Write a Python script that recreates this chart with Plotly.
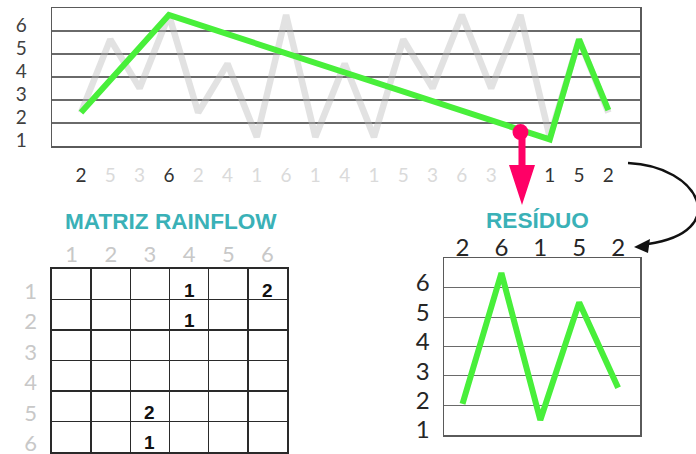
import plotly.graph_objects as go

W, H = 696, 454

# ---------------- data ----------------
signal_vals = [2, 5, 3, 6, 2, 4, 1, 6, 1, 4, 1, 5, 3, 6, 3, 6, 1, 5, 2]
signal_idx = list(range(len(signal_vals)))
signal_labels = ["2", "5", "3", "6", "2", "4", "1", "6", "1", "4", "1", "5", "3", "6", "3", "", "1", "5", "2"]
signal_label_dark = [1, 0, 0, 1, 0, 0, 0, 0, 0, 0, 0, 0, 0, 0, 0, 0, 1, 1, 1]

path_idx = [0, 3, 16, 17, 18]
path_vals = [2, 6, 0.9, 5, 2.1]

break_idx = [15]
break_vals = [1.2]

levels = [1, 2, 3, 4, 5, 6]
level_labels = ["1", "2", "3", "4", "5", "6"]

residue_idx = [0, 1, 2, 3, 4]
residue_labels = ["2", "6", "1", "5", "2"]
residue_vals = [1.55, 6, 1, 5, 2.1]

matrix_cols = [1, 2, 3, 4, 5, 6]
matrix_rows = [1, 2, 3, 4, 5, 6]
matrix_col_labels = ["1", "2", "3", "4", "5", "6"]
matrix_row_labels = ["1", "2", "3", "4", "5", "6"]
count_col = [4, 6, 4, 3, 3]
count_row = [1, 1, 2, 5, 6]
count_val = ["1", "2", "1", "2", "1"]

# ---------------- styles ----------------
GREEN = "#48EF3A"
GREY_LINE = "rgba(185,185,185,0.42)"
PINK = "#FF0066"
TEAL = "#3AB1B7"
DIGIT_FONT = "Lato"
BOLD_FONT = "Liberation Sans"


def fx(px):
    return px / W


def fy(py):
    return 1 - py / H


def P(px, py):
    return f"{fx(px):.5f},{fy(py):.5f}"


fig = go.Figure()

# invisible anchor trace for the level/grid axis of the top chart
fig.add_trace(go.Scatter(x=[signal_idx[0]], y=[levels[0]], xaxis="x", yaxis="y", mode="markers",
                         marker=dict(opacity=0), hoverinfo="skip"))
# top chart: full signal (grey) and residue path (green)
fig.add_trace(go.Scatter(x=signal_idx, y=signal_vals, xaxis="x", yaxis="y2", mode="lines",
                         line=dict(color=GREY_LINE, width=6.5), hoverinfo="skip"))
fig.add_trace(go.Scatter(x=path_idx, y=path_vals, xaxis="x", yaxis="y2", mode="lines",
                         line=dict(color=GREEN, width=6), hoverinfo="skip"))
fig.add_trace(go.Scatter(x=break_idx, y=break_vals, xaxis="x", yaxis="y2", mode="markers",
                         marker=dict(color=PINK, size=16), hoverinfo="skip", cliponaxis=False))

# residue chart
fig.add_trace(go.Scatter(x=residue_idx, y=residue_vals, xaxis="x3", yaxis="y3", mode="lines",
                         line=dict(color=GREEN, width=6), hoverinfo="skip"))

# matrix (invisible trace so the subplot exists)
fig.add_trace(go.Scatter(x=matrix_cols, y=matrix_rows, xaxis="x4", yaxis="y4", mode="markers",
                         marker=dict(opacity=0), hoverinfo="skip"))

ticktext_top = []
for lab, dark in zip(signal_labels, signal_label_dark):
    col = "#333333" if dark else "#DADADA"
    ticktext_top.append(f'<span style="color:{col}">{lab}</span>')

BORDER = "#5a5a5a"
fig.update_layout(
    width=W, height=H, margin=dict(l=0, r=0, t=0, b=0),
    template="none", paper_bgcolor="white", plot_bgcolor="rgba(0,0,0,0)",
    showlegend=False,
    xaxis=dict(domain=[fx(52), fx(640)], range=[-0.99, 19.08], anchor="y",
               tickmode="array", tickvals=signal_idx, ticktext=ticktext_top,
               showline=True, mirror=True, linecolor=BORDER, linewidth=1.5,
               ticks="", showgrid=False, zeroline=False, automargin=False,
               tickfont=dict(family=DIGIT_FONT, size=19, color="#333333"),
               ticklabelstandoff=12),
    yaxis=dict(domain=[fy(146), fy(8)], range=[1, 7], anchor="x",
               tickmode="array", tickvals=levels, ticktext=level_labels,
               showgrid=True, gridcolor="#6a6a6a", gridwidth=1.2,
               showline=True, mirror=True, linecolor=BORDER, linewidth=1.5,
               ticks="", zeroline=False, automargin=False,
               tickfont=dict(family=DIGIT_FONT, size=19, color="#404040"),
               ticklabelshift=-6, ticklabelstandoff=20),
    yaxis2=dict(overlaying="y", range=[0.631, 6.287], visible=False, anchor="x"),
    xaxis3=dict(domain=[fx(444), fx(640)], range=[-0.476, 4.563], anchor="y3", side="top",
                tickmode="array", tickvals=residue_idx, ticktext=residue_labels,
                showline=True, mirror=True, linecolor=BORDER, linewidth=1.5,
                ticks="", showgrid=False, zeroline=False, automargin=False,
                tickfont=dict(family=DIGIT_FONT, size=24, color="#262626"),
                ticklabelstandoff=-9),
    yaxis3=dict(domain=[fy(435), fy(258)], range=[0.49, 6.51], anchor="x3",
                tickmode="array", tickvals=levels, ticktext=level_labels,
                showgrid=False, showline=True, mirror=True, linecolor=BORDER, linewidth=1.5,
                ticks="", zeroline=False, automargin=False,
                minor=dict(tickmode="array", tickvals=[1.5, 2.5, 3.5, 4.5, 5.5], showgrid=True,
                           gridcolor="#6a6a6a", gridwidth=1.2, ticks=""),
                tickfont=dict(family=DIGIT_FONT, size=24, color="#262626"),
                ticklabelshift=10, ticklabelstandoff=8),
    xaxis4=dict(domain=[fx(52), fx(287)], range=[0.5, 6.5], anchor="y4", side="top",
                tickmode="array", tickvals=matrix_cols, ticktext=matrix_col_labels,
                showline=True, mirror=True, linecolor="#2a2a2a", linewidth=1.6,
                ticks="", showgrid=False, zeroline=False, automargin=False,
                minor=dict(tickmode="array", tickvals=[1.5, 2.5, 3.5, 4.5, 5.5], showgrid=True,
                           gridcolor="#2a2a2a", gridwidth=1.5, ticks=""),
                tickfont=dict(family=DIGIT_FONT, size=22, color="#C8C8C8"),
                ticklabelstandoff=-3),
    yaxis4=dict(domain=[fy(452), fy(269)], range=[6.5, 0.5], anchor="x4",
                tickmode="array", tickvals=matrix_rows, ticktext=matrix_row_labels,
                showline=True, mirror=True, linecolor="#2a2a2a", linewidth=1.6,
                ticks="", showgrid=False, zeroline=False, automargin=False,
                ticklabeloverflow="allow",
                minor=dict(tickmode="array", tickvals=[1.5, 2.5, 3.5, 4.5, 5.5], showgrid=True,
                           gridcolor="#2a2a2a", gridwidth=1.5, ticks=""),
                tickfont=dict(family=DIGIT_FONT, size=22, color="#C8C8C8"),
                ticklabelshift=-7, ticklabelstandoff=9),
)

annotations = []
for c, r, v in zip(count_col, count_row, count_val):
    annotations.append(dict(x=c, y=r, xref="x4", yref="y4", text=f"<b>{v}</b>", showarrow=False,
                            yshift=-6, font=dict(family=BOLD_FONT, size=19, color="#111111")))
annotations.append(dict(x=fx(171), y=fy(221), xref="paper", yref="paper", text="<b>MATRIZ RAINFLOW</b>",
                        showarrow=False, xanchor="center", yanchor="middle",
                        font=dict(family=BOLD_FONT, size=22.6, color=TEAL)))
annotations.append(dict(x=fx(537), y=fy(220), xref="paper", yref="paper", text="<b>RESÍDUO</b>",
                        showarrow=False, xanchor="center", yanchor="middle",
                        font=dict(family=BOLD_FONT, size=22.6, color=TEAL)))
fig.update_layout(annotations=annotations)

shapes = []
# pink arrow from the break point down
pink_path = ("M " + P(518.5, 132) + " L " + P(525.5, 132) + " L " + P(525.5, 165) + " L " + P(535, 165)
             + " L " + P(522, 205) + " L " + P(509, 165) + " L " + P(518.5, 165) + " Z")
shapes.append(dict(type="path", path=pink_path, xref="paper", yref="paper",
                   fillcolor=PINK, line=dict(width=0), layer="above"))
# curved black arrow
curve = "M " + P(628, 163) + " C " + P(700, 166) + " " + P(732, 232) + " " + P(648, 244)
shapes.append(dict(type="path", path=curve, xref="paper", yref="paper",
                   line=dict(color="#111111", width=2.5), layer="above"))
head = "M " + P(634, 247) + " L " + P(650, 239) + " L " + P(648, 253) + " Z"
shapes.append(dict(type="path", path=head, xref="paper", yref="paper",
                   fillcolor="#111111", line=dict(width=0), layer="above"))
fig.update_layout(shapes=shapes)

fig.write_html("out.html", config={"displayModeBar": False, "staticPlot": True},
               post_script="document.body.style.margin='0';document.body.style.padding='0';")
